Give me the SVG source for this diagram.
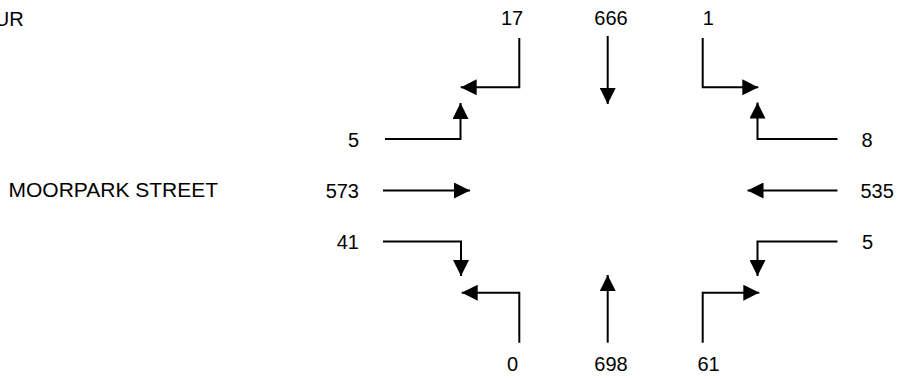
<svg xmlns="http://www.w3.org/2000/svg" width="898" height="379" viewBox="0 0 898 379">
<style>
  text { font-family: "Liberation Sans", Arial, sans-serif; font-size: 20px; fill: #000; }
  .c { stroke: #000; stroke-width: 2; fill: none; marker-end: url(#ah); }
</style>
<defs>
  <marker id="ah" markerUnits="userSpaceOnUse" markerWidth="16" markerHeight="16" viewBox="0 0 15 15" refX="15" refY="7.5" orient="auto">
    <path d="M0,0 L15,7.5 L0,15 Z" fill="#000"/>
  </marker>
</defs>
<rect width="898" height="379" fill="#fff"/>
<g id="street-labels">
  <text x="23.7" y="25.7" text-anchor="end">UR</text>
  <text x="8.5" y="197" style="font-size:21px">MOORPARK STREET</text>
</g>
<g id="connectors">
  <path class="c" d="M519.3,38 V87.3 H460.7"/>
  <path class="c" d="M607.7,36 V104"/>
  <path class="c" d="M702.7,38 V87.3 H758.3"/>
  <path class="c" d="M385,139 H460.5 V103"/>
  <path class="c" d="M837.5,139 H757.5 V102.5"/>
  <path class="c" d="M383,190.5 H470"/>
  <path class="c" d="M837.5,190.5 H747.5"/>
  <path class="c" d="M383,241.5 H461 V276"/>
  <path class="c" d="M837.5,241.5 H757.5 V276"/>
  <path class="c" d="M519.3,342.7 V292.7 H461.7"/>
  <path class="c" d="M607.7,342.7 V275"/>
  <path class="c" d="M702.7,342.7 V292.7 H759.3"/>
</g>
<g id="north-left"><text x="512" y="25.3" text-anchor="middle">17</text></g>
<g id="north-through"><text x="611" y="25.3" text-anchor="middle">666</text></g>
<g id="north-right"><text x="702.8" y="25.3">1</text></g>
<g id="west-left"><text x="359" y="146.7" text-anchor="end">5</text></g>
<g id="west-through"><text x="359" y="197.5" text-anchor="end">573</text></g>
<g id="west-right"><text x="359" y="248.5" text-anchor="end">41</text></g>
<g id="east-right"><text x="861.5" y="146.7">8</text></g>
<g id="east-through"><text x="860.5" y="197.5">535</text></g>
<g id="east-left"><text x="862" y="248.5">5</text></g>
<g id="south-left"><text x="512.5" y="371" text-anchor="middle">0</text></g>
<g id="south-through"><text x="611" y="371" text-anchor="middle">698</text></g>
<g id="south-right"><text x="708.6" y="371" text-anchor="middle">61</text></g>
</svg>
